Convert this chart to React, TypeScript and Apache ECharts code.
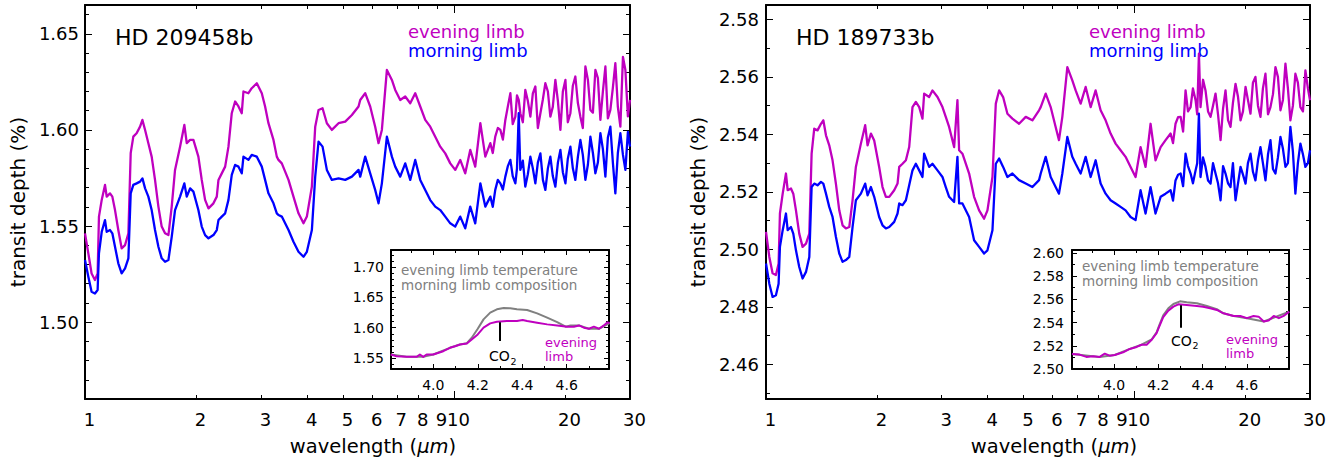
import React, { useEffect, useRef } from "react";
import * as echarts from "echarts";

// ---------- data (wavelength in micron, transit depth in %) ----------
const WL = [
  1.000, 1.021, 1.042, 1.064, 1.082, 1.091, 1.110, 1.133, 1.145, 1.169,
  1.186, 1.206, 1.231, 1.257, 1.284, 1.311, 1.330, 1.352, 1.380, 1.410,
  1.431, 1.455, 1.485, 1.516, 1.548, 1.581, 1.614, 1.648, 1.683, 1.718,
  1.754, 1.810, 1.859, 1.887, 1.927, 1.967, 2.029, 2.072, 2.116, 2.161,
  2.229, 2.276, 2.300, 2.348, 2.398, 2.448, 2.499, 2.552, 2.606, 2.660,
  2.688, 2.773, 2.831, 2.922, 3.014, 3.077, 3.142, 3.242, 3.310, 3.345,
  3.415, 3.561, 3.673, 3.790, 3.910, 3.993, 4.120, 4.207, 4.295, 4.404,
  4.524, 4.667, 4.866, 5.073, 5.289, 5.513,
  5.571, 5.747, 5.929, 6.116, 6.245, 6.377, 6.580, 6.788, 6.931, 7.151,
  7.378, 7.612, 7.853, 8.102, 8.359, 8.624, 8.898, 9.180, 9.471, 9.772,
  10.08, 10.40, 10.73, 11.07, 11.42, 11.79, 12.16,
  12.55, 12.74, 12.94, 13.15, 13.36, 13.57, 13.78, 13.99, 14.22, 14.43,
  14.67, 14.82, 14.98, 15.13, 15.37, 15.61, 15.86, 16.11, 16.36, 16.62,
  16.88, 17.15, 17.42, 17.69, 17.97, 18.25, 18.53, 18.83, 19.13, 19.43,
  19.73, 20.05, 20.35, 20.68, 21.00, 21.33, 21.67, 22.01, 22.35, 22.71,
  23.07, 23.43, 23.80, 24.17, 24.55, 24.94, 25.33, 25.73, 26.13, 26.54,
  26.96, 27.38, 27.81, 28.25, 28.71, 29.15, 29.61, 30.00,
];

const HD209_EVENING = [
  1.5462, 1.5358, 1.5253, 1.5219, 1.5253, 1.5549, 1.5636, 1.5714, 1.5653, 1.5670,
  1.5653, 1.5583, 1.5479, 1.5384, 1.5401, 1.5462, 1.5879, 1.5965, 1.5983, 1.6017,
  1.6052, 1.6000, 1.5931, 1.5861, 1.5740, 1.5601, 1.5497, 1.5462, 1.5453, 1.5601,
  1.5792, 1.5913, 1.6026, 1.5931, 1.5948, 1.5948, 1.5861, 1.5740, 1.5636, 1.5592,
  1.5618, 1.5653, 1.5740, 1.5774, 1.5809, 1.5913, 1.6087, 1.6148, 1.6122, 1.6087,
  1.6200, 1.6191, 1.6217, 1.6243, 1.6191, 1.6122, 1.6035, 1.5948, 1.5861, 1.5844,
  1.5826, 1.5740, 1.5653, 1.5566, 1.5514, 1.5549, 1.5705, 1.6017, 1.6104, 1.6113,
  1.6035, 1.6000, 1.6035, 1.6043, 1.6078, 1.6122,
  1.6156, 1.6191, 1.6122, 1.6017, 1.5931, 1.6000, 1.6312, 1.6260, 1.6208, 1.6156,
  1.6174, 1.6139, 1.6191, 1.6122, 1.6052, 1.6017, 1.5965, 1.5913, 1.5878, 1.5826,
  1.5792, 1.5844, 1.5774, 1.5896, 1.5809, 1.6035, 1.5861,
  1.5931, 1.5880, 1.5965, 1.6010, 1.6000, 1.5950, 1.6052, 1.6120, 1.6191, 1.6030,
  1.6069, 1.6180, 1.6156, 1.6087, 1.6040, 1.6208, 1.6150, 1.6069, 1.6190, 1.6226,
  1.6010, 1.6087, 1.6160, 1.6243, 1.6200, 1.6069, 1.6120, 1.6260, 1.6150, 1.6000,
  1.6200, 1.6260, 1.6040, 1.6087, 1.6230, 1.6278, 1.6140, 1.6069, 1.6010, 1.6330,
  1.6260, 1.6104, 1.6090, 1.6312, 1.6270, 1.6052, 1.6200, 1.6330, 1.6060, 1.6104,
  1.6220, 1.6347, 1.6120, 1.6017, 1.6380, 1.6312, 1.6070, 1.6156,
];

const HD209_MORNING = [
  1.5323, 1.5236, 1.5158, 1.5149, 1.5167, 1.5358, 1.5470, 1.5531, 1.5470, 1.5479,
  1.5462, 1.5392, 1.5306, 1.5254, 1.5280, 1.5332, 1.5670, 1.5714, 1.5722, 1.5731,
  1.5748, 1.5696, 1.5653, 1.5583, 1.5479, 1.5392, 1.5332, 1.5314, 1.5323, 1.5444,
  1.5583, 1.5653, 1.5722, 1.5653, 1.5696, 1.5679, 1.5583, 1.5497, 1.5453, 1.5436,
  1.5453, 1.5479, 1.5531, 1.5549, 1.5566, 1.5636, 1.5766, 1.5818, 1.5809, 1.5774,
  1.5861, 1.5844, 1.5870, 1.5861, 1.5809, 1.5740, 1.5670, 1.5618, 1.5566, 1.5557,
  1.5549, 1.5479, 1.5418, 1.5366, 1.5340, 1.5366, 1.5479, 1.5757, 1.5939, 1.5913,
  1.5792, 1.5740, 1.5748, 1.5740, 1.5757, 1.5792,
  1.5757, 1.5861, 1.5774, 1.5688, 1.5618, 1.5722, 1.5965, 1.5861, 1.5809, 1.5757,
  1.5826, 1.5740, 1.5844, 1.5740, 1.5688, 1.5635, 1.5601, 1.5583, 1.5549, 1.5514,
  1.5497, 1.5549, 1.5488, 1.5601, 1.5514, 1.5722, 1.5601,
  1.5653, 1.5600, 1.5688, 1.5740, 1.5722, 1.5690, 1.5757, 1.5810, 1.5844, 1.5760,
  1.5722, 1.5800, 1.6087, 1.5792, 1.5840, 1.5705, 1.5770, 1.5861, 1.5800, 1.5722,
  1.5830, 1.5878, 1.5740, 1.5688, 1.5800, 1.5861, 1.5760, 1.5705, 1.5830, 1.5896,
  1.5780, 1.5722, 1.5850, 1.5913, 1.5800, 1.5740, 1.5860, 1.5948, 1.5870, 1.5740,
  1.5820, 1.5965, 1.5880, 1.5774, 1.5830, 1.5983, 1.5900, 1.5757, 1.5960, 1.6017,
  1.5830, 1.5670, 1.5880, 1.5983, 1.5870, 1.5792, 1.5990, 1.5913,
];

const HD189_EVENING = [
  2.5061, 2.4974, 2.4917, 2.4911, 2.4951, 2.5125, 2.5194, 2.5264, 2.5206, 2.5212,
  2.5194, 2.5136, 2.5055, 2.5009, 2.5020, 2.5055, 2.5333, 2.5420, 2.5414, 2.5437,
  2.5449, 2.5397, 2.5362, 2.5310, 2.5229, 2.5136, 2.5084, 2.5073, 2.5078, 2.5171,
  2.5287, 2.5368, 2.5432, 2.5362, 2.5403, 2.5379, 2.5287, 2.5217, 2.5183, 2.5183,
  2.5206, 2.5229, 2.5287, 2.5298, 2.5310, 2.5356, 2.5495, 2.5513, 2.5495, 2.5455,
  2.5542, 2.5530, 2.5553, 2.5530, 2.5495, 2.5461, 2.5426, 2.5356, 2.5519, 2.5345,
  2.5333, 2.5264, 2.5183, 2.5136, 2.5107, 2.5136, 2.5252, 2.5507, 2.5553, 2.5530,
  2.5472, 2.5455, 2.5437, 2.5461, 2.5449, 2.5484,
  2.5495, 2.5542, 2.5495, 2.5426, 2.5380, 2.5461, 2.5634, 2.5588, 2.5553, 2.5507,
  2.5565, 2.5495, 2.5553, 2.5484, 2.5449, 2.5403, 2.5368, 2.5345, 2.5322, 2.5287,
  2.5252, 2.5356, 2.5287, 2.5437, 2.5310, 2.5356, 2.5380,
  2.5403, 2.5370, 2.5437, 2.5460, 2.5461, 2.5410, 2.5553, 2.5480, 2.5495, 2.5560,
  2.5519, 2.5470, 2.5681, 2.5495, 2.5590, 2.5553, 2.5480, 2.5461, 2.5500, 2.5542,
  2.5470, 2.5380, 2.5490, 2.5553, 2.5450, 2.5426, 2.5510, 2.5576, 2.5530, 2.5449,
  2.5480, 2.5565, 2.5520, 2.5472, 2.5580, 2.5600, 2.5500, 2.5461, 2.5560, 2.5611,
  2.5470, 2.5495, 2.5540, 2.5634, 2.5600, 2.5484, 2.5520, 2.5646, 2.5560, 2.5449,
  2.5500, 2.5611, 2.5580, 2.5495, 2.5480, 2.5623, 2.5560, 2.5519,
];

const HD189_MORNING = [
  2.4951, 2.4881, 2.4835, 2.4841, 2.4881, 2.5009, 2.5067, 2.5125, 2.5067, 2.5078,
  2.5055, 2.4997, 2.4939, 2.4899, 2.4922, 2.4974, 2.5217, 2.5229, 2.5223, 2.5235,
  2.5229, 2.5194, 2.5148, 2.5113, 2.5044, 2.4986, 2.4957, 2.4963, 2.4974, 2.5078,
  2.5171, 2.5194, 2.5229, 2.5188, 2.5217, 2.5183, 2.5113, 2.5084, 2.5073, 2.5078,
  2.5096, 2.5125, 2.5160, 2.5154, 2.5171, 2.5223, 2.5275, 2.5298, 2.5275, 2.5252,
  2.5333, 2.5287, 2.5298, 2.5275, 2.5252, 2.5217, 2.5183, 2.5165, 2.5322, 2.5160,
  2.5160, 2.5113, 2.5032, 2.5009, 2.4986, 2.4997, 2.5067, 2.5298, 2.5316, 2.5287,
  2.5252, 2.5264, 2.5241, 2.5229, 2.5217, 2.5241,
  2.5264, 2.5322, 2.5252, 2.5217, 2.5194, 2.5264, 2.5391, 2.5322, 2.5298, 2.5264,
  2.5322, 2.5252, 2.5310, 2.5229, 2.5194, 2.5171, 2.5160, 2.5148, 2.5136, 2.5113,
  2.5102, 2.5206, 2.5125, 2.5217, 2.5125, 2.5183, 2.5194,
  2.5206, 2.5170, 2.5240, 2.5260, 2.5264, 2.5220, 2.5333, 2.5290, 2.5264, 2.5230,
  2.5275, 2.5300, 2.5472, 2.5252, 2.5320, 2.5287, 2.5240, 2.5229, 2.5300, 2.5264,
  2.5230, 2.5171, 2.5290, 2.5264, 2.5230, 2.5217, 2.5300, 2.5171, 2.5230, 2.5287,
  2.5260, 2.5229, 2.5300, 2.5333, 2.5270, 2.5240, 2.5310, 2.5356, 2.5300, 2.5240,
  2.5330, 2.5380, 2.5280, 2.5264, 2.5320, 2.5391, 2.5350, 2.5287, 2.5300, 2.5426,
  2.5340, 2.5194, 2.5300, 2.5368, 2.5330, 2.5287, 2.5300, 2.5345,
];

// insets (zoom on the 4.3 micron CO2 band)
const IN209_EVE_WL = [3.809, 3.835, 3.880, 3.925, 3.940, 3.955, 3.970, 4.000, 4.045, 4.075, 4.098, 4.120, 4.151, 4.173, 4.200, 4.226, 4.256, 4.286, 4.331, 4.376, 4.402, 4.422, 4.467, 4.512, 4.557, 4.602, 4.632, 4.655, 4.677, 4.700, 4.722, 4.745, 4.767, 4.783, 4.793];
const IN209_EVE = [1.5558, 1.5530, 1.5520, 1.5520, 1.5558, 1.5520, 1.5558, 1.5558, 1.5613, 1.5669, 1.5695, 1.5724, 1.5740, 1.5806, 1.5889, 1.6000, 1.6071, 1.6099, 1.6109, 1.6109, 1.6126, 1.6109, 1.6083, 1.6055, 1.6038, 1.6017, 1.6017, 1.6038, 1.6000, 1.5983, 1.6017, 1.5983, 1.6038, 1.6088, 1.6077];
const IN209_MIX_WL = [3.809, 3.880, 3.955, 4.000, 4.075, 4.120, 4.151, 4.173, 4.200, 4.226, 4.256, 4.286, 4.316, 4.346, 4.376, 4.422, 4.467, 4.512, 4.557, 4.595, 4.617, 4.655, 4.700, 4.745, 4.793];
const IN209_MIX = [1.5558, 1.5520, 1.5520, 1.5558, 1.5669, 1.5724, 1.5745, 1.5834, 1.5983, 1.6137, 1.6248, 1.6303, 1.6325, 1.6320, 1.6303, 1.6292, 1.6237, 1.6166, 1.6093, 1.6016, 1.6038, 1.6038, 1.5983, 1.5983, 1.6077];

const IN189_EVE_WL = [3.810, 3.844, 3.875, 3.905, 3.935, 3.958, 3.980, 4.003, 4.041, 4.071, 4.102, 4.124, 4.147, 4.170, 4.192, 4.203, 4.222, 4.245, 4.268, 4.290, 4.328, 4.374, 4.402, 4.434, 4.464, 4.494, 4.540, 4.570, 4.600, 4.630, 4.653, 4.676, 4.698, 4.721, 4.744, 4.766, 4.791];
const IN189_EVE = [2.5130, 2.5124, 2.5104, 2.5110, 2.5104, 2.5132, 2.5115, 2.5121, 2.5144, 2.5173, 2.5190, 2.5209, 2.5209, 2.5252, 2.5309, 2.5361, 2.5446, 2.5503, 2.5537, 2.5557, 2.5551, 2.5543, 2.5537, 2.5523, 2.5509, 2.5480, 2.5457, 2.5457, 2.5438, 2.5457, 2.5451, 2.5409, 2.5417, 2.5457, 2.5438, 2.5457, 2.5494];
const IN189_MIX_WL = [3.810, 3.935, 4.003, 4.071, 4.124, 4.170, 4.192, 4.203, 4.222, 4.245, 4.268, 4.298, 4.328, 4.374, 4.419, 4.464, 4.494, 4.540, 4.600, 4.676, 4.791];
const IN189_MIX = [2.5130, 2.5104, 2.5121, 2.5173, 2.5209, 2.5255, 2.5315, 2.5372, 2.5463, 2.5523, 2.5560, 2.5583, 2.5574, 2.5566, 2.5543, 2.5515, 2.5480, 2.5457, 2.5438, 2.5409, 2.5494];

const CO2_WL = 4.3;
const CO2_209 = [1.578, 1.609];
const CO2_189 = [2.5355, 2.555];

// ticks
const MAIN_X_LABELS = [1, 2, 3, 4, 5, 6, 7, 8, 9, 10, 20, 30];
const MAIN_X_MAJOR = [1, 10];
const MAIN_X_MINOR = [2, 3, 4, 5, 6, 7, 8, 9, 20, 30];
const Y209_LABELS = [1.50, 1.55, 1.60, 1.65];
const Y209_MINOR = [1.47, 1.48, 1.49, 1.51, 1.52, 1.53, 1.54, 1.56, 1.57, 1.58, 1.59, 1.61, 1.62, 1.63, 1.64, 1.66];
const Y189_LABELS = [2.46, 2.48, 2.50, 2.52, 2.54, 2.56, 2.58];
const Y189_MINOR = [2.45, 2.47, 2.49, 2.51, 2.53, 2.55, 2.57];
const INX_LABELS = [4.0, 4.2, 4.4, 4.6];
const INX_MINOR = [3.9, 4.1, 4.3, 4.5, 4.7];
const INY209_LABELS = [1.55, 1.60, 1.65, 1.70];
const INY209_MINOR = [1.54, 1.56, 1.57, 1.58, 1.59, 1.61, 1.62, 1.63, 1.64, 1.66, 1.67, 1.68, 1.69, 1.71, 1.72];
const INY189_LABELS = [2.50, 2.52, 2.54, 2.56, 2.58, 2.60];
const INY189_MINOR = [2.51, 2.53, 2.55, 2.57, 2.59];

// ---------- styling ----------
const FONT = "DejaVu Sans";
const MAG = "#bf00bf";
const BLUE = "#0000ff";
const GRAY = "#808080";
const L30 = Math.log10(30);

type AxOpt = {
  grid: number; pos: string; min: number; max: number; ticks: number[]; len: number;
  line?: boolean; labels?: number[]; fmt?: (v: number) => string; size?: number; margin?: number; padding?: any;
};

function valAxis(o: AxOpt): any {
  return {
    type: "value",
    gridIndex: o.grid,
    position: o.pos,
    min: o.min,
    max: o.max,
    splitLine: { show: false },
    splitArea: { show: false },
    minorTick: { show: false },
    axisLine: { show: !!o.line, onZero: false, lineStyle: { color: "#000", width: 2 } },
    axisTick: { show: true, inside: true, length: o.len, customValues: o.ticks, lineStyle: { color: "#000", width: 1 } },
    axisLabel: o.labels
      ? {
          show: true, customValues: o.labels, formatter: o.fmt, color: "#000", fontFamily: FONT,
          fontSize: o.size, margin: o.margin, padding: o.padding || 0, showMinLabel: true, showMaxLabel: true,
        }
      : { show: false },
  };
}

function mainX(g: number): any[] {
  const lg = (a: number[]) => a.map((v) => Math.log10(v));
  return [
    { type: "log", logBase: 10, gridIndex: g, min: 1, max: 30, show: false },
    valAxis({ grid: g, pos: "bottom", min: 0, max: L30, ticks: lg(MAIN_X_MAJOR), len: 8, line: true,
      labels: lg(MAIN_X_LABELS), fmt: (v) => String(Math.round(Math.pow(10, v))), size: 18, margin: 11, padding: [0, 0, 0, 9] }),
    valAxis({ grid: g, pos: "bottom", min: 0, max: L30, ticks: lg(MAIN_X_MINOR), len: 4 }),
    valAxis({ grid: g, pos: "top", min: 0, max: L30, ticks: lg(MAIN_X_MAJOR), len: 8, line: true }),
    valAxis({ grid: g, pos: "top", min: 0, max: L30, ticks: lg(MAIN_X_MINOR), len: 4 }),
  ];
}

function yAxes(g: number, min: number, max: number, labels: number[], minor: number[], lenMaj: number, lenMin: number, size: number, margin: number): any[] {
  return [
    valAxis({ grid: g, pos: "left", min, max, ticks: labels, len: lenMaj, line: true, labels, fmt: (v) => v.toFixed(2), size, margin }),
    valAxis({ grid: g, pos: "left", min, max, ticks: minor, len: lenMin }),
    valAxis({ grid: g, pos: "right", min, max, ticks: labels, len: lenMaj, line: true }),
    valAxis({ grid: g, pos: "right", min, max, ticks: minor, len: lenMin }),
  ];
}

function insetX(g: number): any[] {
  const min = 3.81, max = 4.79;
  return [
    valAxis({ grid: g, pos: "bottom", min, max, ticks: INX_LABELS, len: 5, line: true, labels: INX_LABELS, fmt: (v) => v.toFixed(1), size: 14, margin: 9 }),
    valAxis({ grid: g, pos: "bottom", min, max, ticks: INX_MINOR, len: 3 }),
    valAxis({ grid: g, pos: "top", min, max, ticks: INX_LABELS, len: 5, line: true }),
    valAxis({ grid: g, pos: "top", min, max, ticks: INX_MINOR, len: 3 }),
  ];
}

function line(name: string, xs: number[], ys: number[], color: string, xi: number, yi: number, width: number, extra: any = {}): any {
  return {
    type: "line", name, xAxisIndex: xi, yAxisIndex: yi, showSymbol: false, symbol: "none",
    data: xs.map((x, i) => [x, ys[i]]), lineStyle: { color, width, join: "round" }, itemStyle: { color },
    silent: true, ...extra,
  };
}

function co2Mark(vals: number[]): any {
  return {
    markLine: {
      silent: true, symbol: ["none", "none"], label: { show: false },
      lineStyle: { color: "#000", width: 2, type: "solid" },
      data: [[{ coord: [CO2_WL, vals[0]] }, { coord: [CO2_WL, vals[1]] }]],
    },
  };
}

function txt(x: number, y: number, text: string, size: number, color: string, extra: any = {}): any {
  return {
    type: "text", x, y, silent: true,
    style: { text, fill: color, fontSize: size, fontFamily: FONT, align: "left", verticalAlign: "middle", ...extra },
  };
}

function xName(cx: number): any {
  return {
    type: "text", x: cx, y: 446, silent: true,
    style: {
      text: "{a|wavelength (}{b|\u03bcm}{a|)}",
      align: "center", verticalAlign: "middle",
      rich: {
        a: { fontSize: 19.5, fontFamily: FONT, fill: "#000" },
        b: { fontSize: 19.5, fontFamily: FONT, fontStyle: "italic", fill: "#000" },
      },
    },
  };
}

function yName(cx: number): any {
  return {
    type: "text", x: cx, y: 202, rotation: Math.PI / 2, silent: true,
    style: { text: "transit depth (%)", fill: "#000", fontSize: 20, fontFamily: FONT, align: "center", verticalAlign: "middle" },
  };
}

const option: any = {
  animation: false,
  backgroundColor: "#fff",
  grid: [
    { left: 85, top: 5, width: 545, height: 394 },
    { left: 766, top: 5, width: 544, height: 394 },
    { left: 391, top: 250, width: 218, height: 119, show: true, backgroundColor: "#fff", borderWidth: 0 },
    { left: 1072, top: 250, width: 217, height: 119, show: true, backgroundColor: "#fff", borderWidth: 0 },
  ],
  xAxis: [...mainX(0), ...mainX(1), ...insetX(2), ...insetX(3)],
  yAxis: [
    ...yAxes(0, 1.46, 1.665, Y209_LABELS, Y209_MINOR, 7, 4, 18, 6),
    ...yAxes(1, 2.448, 2.585, Y189_LABELS, Y189_MINOR, 7, 4, 18, 7),
    ...yAxes(2, 1.532, 1.728, INY209_LABELS, INY209_MINOR, 5, 3, 14, 7),
    ...yAxes(3, 2.50, 2.6025, INY189_LABELS, INY189_MINOR, 5, 3, 14, 8),
  ],
  series: [
    line("HD209 evening", WL, HD209_EVENING, MAG, 0, 0, 2.3),
    line("HD209 morning", WL, HD209_MORNING, BLUE, 0, 0, 2.3),
    line("HD189 evening", WL, HD189_EVENING, MAG, 5, 4, 2.3),
    line("HD189 morning", WL, HD189_MORNING, BLUE, 5, 4, 2.3),
    line("HD209 inset mix", IN209_MIX_WL, IN209_MIX, GRAY, 10, 8, 2),
    line("HD209 inset evening", IN209_EVE_WL, IN209_EVE, MAG, 10, 8, 2, co2Mark(CO2_209)),
    line("HD189 inset mix", IN189_MIX_WL, IN189_MIX, GRAY, 14, 12, 2),
    line("HD189 inset evening", IN189_EVE_WL, IN189_EVE, MAG, 14, 12, 2, co2Mark(CO2_189)),
  ],
  graphic: [
    txt(115, 37, "HD 209458b", 22, "#000"),
    txt(796, 37, "HD 189733b", 22, "#000"),
    txt(408, 31, "evening limb", 18, MAG),
    txt(408, 50, "morning limb", 18, BLUE),
    txt(1089, 31, "evening limb", 18, MAG),
    txt(1089, 50, "morning limb", 18, BLUE),
    txt(401, 270, "evening limb temperature", 13.5, GRAY),
    txt(401, 284.5, "morning limb composition", 13.5, GRAY),
    txt(1082, 266, "evening limb temperature", 13.5, GRAY),
    txt(1082, 280.5, "morning limb composition", 13.5, GRAY),
    txt(489, 356, "CO", 14, "#000"),
    txt(510.5, 361, "2", 9.5, "#000"),
    txt(1171, 340.5, "CO", 14, "#000"),
    txt(1192.5, 345.5, "2", 9.5, "#000"),
    txt(545, 342, "evening", 13, MAG),
    txt(545, 356, "limb", 13, MAG),
    txt(1226, 339, "evening", 13, MAG),
    txt(1226, 353.3, "limb", 13, MAG),
    xName(373),
    xName(1054),
    yName(17.5),
    yName(697.5),
  ],
};

export default function App() {
  const ref = useRef<HTMLDivElement>(null);
  useEffect(() => {
    if (!ref.current) return;
    const chart = echarts.init(ref.current, null, { renderer: "svg", width: 1344, height: 462 });
    chart.setOption(option);
    return () => chart.dispose();
  }, []);
  return (
    <div
      ref={ref}
      style={{ position: "fixed", left: 0, top: 0, width: 1344, height: 462, background: "#fff" }}
    />
  );
}
